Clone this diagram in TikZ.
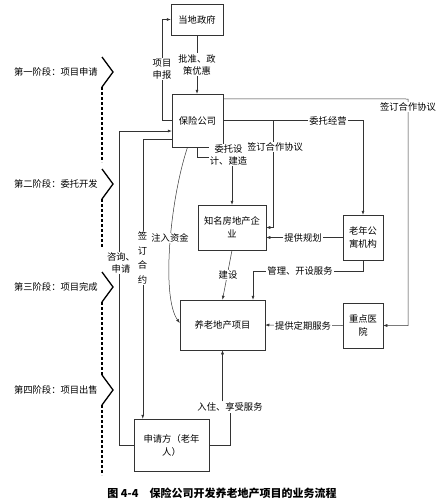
\documentclass[tikz,border=0pt]{standalone}
\usepackage{fontspec}
\setmainfont{Noto Sans CJK SC}
\usetikzlibrary{positioning, arrows.meta, calc}

\begin{document}
\begin{tikzpicture}[
    x=1pt, y=-1pt,
    box/.style={rectangle, draw=black!80, line width=0.5pt, align=center, inner sep=1pt, font=\fontsize{9.3}{13}\selectfont},
    lbl/.style={fill=white, inner sep=1pt, align=center, font=\fontsize{9.3}{12}\selectfont},
    flow/.style={draw=black!80, line width=0.5pt},
    arr/.style={flow, -{Latex[length=4pt, width=3pt]}},
    stage/.style={anchor=east, inner sep=0pt, font=\fontsize{9.3}{11}\selectfont},
    chev/.style={line width=1.3pt},
    divline/.style={line width=1.3pt, dash pattern=on 3pt off 2pt}
]
\useasboundingbox (0,0) rectangle (447,501);
\fill[white] (0,0) rectangle (447,501);

% Parties
\node[box, minimum width=52pt, minimum height=31pt] (gov) at (197,19.5) {当地政府};
\node[box, minimum width=51pt, minimum height=53pt] (ins) at (197.5,120.5) {保险公司};
\node[box, minimum width=68pt, minimum height=45pt] (dev) at (232,227.5) {知名房地产企\\业};
\node[box, minimum width=40pt, minimum height=45pt] (apt) at (363,237.5) {老年公\\寓机构};
\node[box, minimum width=40pt, minimum height=45pt] (hosp) at (363,325.5) {重点医\\院};
\node[box, minimum width=85pt, minimum height=50pt] (proj) at (222.5,325) {养老地产项目};
\node[box, minimum width=75pt, minimum height=52pt] (appl) at (171.5,445) {申请方（老年\\人）};
\node[lbl] (ruzhu) at (230,407) {入住、享受服务};

% Joints
\coordinate (rt) at (408,99);
\coordinate (j1) at (273,120.5);
\coordinate (j2) at (232,157);
\coordinate (j3) at (253,271);

% Flows
\draw[arr] (gov.south) -- (gov.south |- ins.north);
\draw[arr] (ins.west) -- ++(-10,0) |- (gov.west);
\draw[arr] ($(ins.north east)+(0,5)$) -- (rt) |- (hosp.east);
\draw[arr] (ins.east) -| (apt.north);
\draw[arr] (j1) |- (dev.east);
\draw[arr] (apt.west) -- (apt.west -| dev.east);
\draw[arr] (ins.south) |- (j2) -- (dev.north);
\draw[arr] (dev.south) -- (proj.north);
\draw[arr] (apt.south) |- (j3) -- (j3 |- proj.north);
\draw[arr] (hosp.west) -- (proj.east);
\draw[arr] ($(ins.south)+(-10,0)$) .. controls (170,200) and (161,297) .. ($(proj.west)+(0,-2)$);
\draw[arr] (appl.west) -- ++(-15,0) |- ($(ins.west)+(0,10.5)$);
\draw[arr] ($(ins.west)+(0,18.5)$) -| ($(appl.north west)+(9,0)$);
\draw[flow] (appl.east) -| (ruzhu.south);
\draw[arr] (ruzhu.north -| proj.south) -- (proj.south);

% Labels
\node[lbl] (pizhun) at (197,64.5) {批准、政\\策优惠};
\node[lbl] (shenbao) at (162,69) {项目\\申报};
\node[lbl] (xieyi1) at (408,107) {签订合作协议};
\node[lbl] (jingying) at (328,120.5) {委托经营};
\node[lbl] (xieyi2) at (275,147) {签订合作协议};
\node[lbl] (sheji) at (228.5,155) {委托设\\计、建造};
\node[lbl] (guihua) at (303,237.5) {提供规划};
\node[lbl] (guanli) at (300,271) {管理、开设服务};
\node[lbl] (jianshe) at (228,275) {建设};
\node[lbl] (dingqi) at (303,325.5) {提供定期服务};
\node[lbl] (zhuru) at (170,238) {注入资金};
\node[lbl] (zixun) at (121,263) {咨询、\\申请};
\node[lbl, font=\fontsize{9.3}{14.5}\selectfont] (heyue) at (142.5,258) {签\\订\\合\\约};

% Stages
\node[stage] (s1) at (98,72) {第一阶段：项目申请};
\node[stage] (s2) at (98,184) {第二阶段：委托开发};
\node[stage] (s3) at (98,287) {第三阶段：项目完成};
\node[stage] (s4) at (98,390) {第四阶段：项目出售};
\draw[chev] (102,57) -- (113,72) -- (102,87);
\draw[divline] (102,87) -- (102,162);
\draw[chev] (102,169) -- (113,184) -- (102,199);
\draw[divline] (102,199) -- (102,247);
\draw[chev] (102,272) -- (113,287) -- (102,302);
\draw[divline] (102,302) -- (102,375);
\draw[chev] (102,375) -- (113,390) -- (102,405);
\draw[divline] (102,405) -- (102,475);

% Caption
\node[font=\fontsize{11}{13}\selectfont\bfseries] (cap) at (222,493) {图 4-4\quad 保险公司开发养老地产项目的业务流程};
\end{tikzpicture}
\end{document}
